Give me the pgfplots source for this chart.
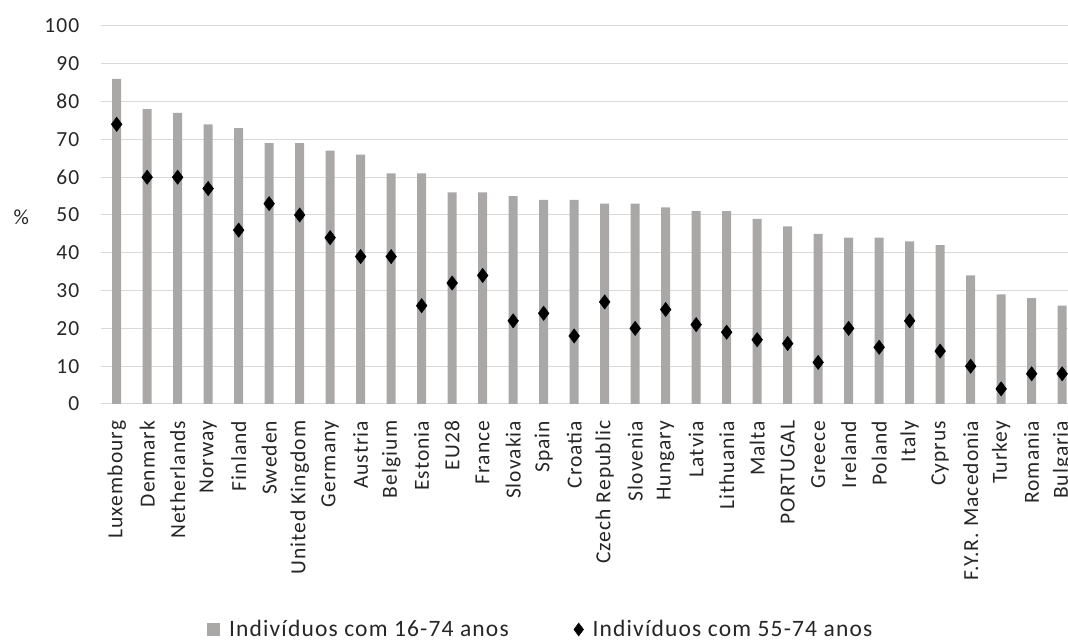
\documentclass[border=0pt]{standalone}
\usepackage{pgfplots}
\pgfplotsset{compat=1.18}
\usepackage{fontspec}
\setmainfont{Carlito}[LetterSpace=5]
\definecolor{bargray}{RGB}{170,167,167}
\definecolor{gridgray}{RGB}{217,217,217}
\begin{document}
\begin{tikzpicture}
\useasboundingbox (0pt,0pt) rectangle (1068pt,642pt);
\clip (0pt,0pt) rectangle (1068pt,642pt);
\begin{axis}[
  at={(101.4pt,238pt)}, anchor=south west,
  scale only axis, width=976pt, height=378pt,
  xmin=-0.5, xmax=31.5, ymin=0, ymax=100,
  axis x line*=bottom, axis y line*=left,
  x axis line style={draw=gridgray, line width=1pt},
  y axis line style={draw=none},
  major tick length=0pt,
  ytick={0,10,...,100},
  ymajorgrids, grid style={draw=gridgray, line width=1pt},
  xtick={0,...,31},
  xticklabels={Luxembourg,Denmark,Netherlands,Norway,Finland,Sweden,United Kingdom,Germany,Austria,Belgium,Estonia,EU28,France,Slovakia,Spain,Croatia,Czech Republic,Slovenia,Hungary,Latvia,Lithuania,Malta,PORTUGAL,Greece,Ireland,Poland,Italy,Cyprus,F.Y.R. Macedonia,Turkey,Romania,Bulgaria},
  xticklabel style={yshift=-16.5pt, rotate=90, anchor=east, inner sep=0pt, font=\fontsize{21.5}{24}\selectfont, text=black!85},
  yticklabel style={anchor=east, inner sep=0pt, xshift=-22pt, font=\fontsize{21.5}{24}\selectfont, text=black!85},
  /pgf/number format/assume math mode=true,
  ylabel={\%},
  ylabel style={rotate=-90, at={(axis description cs:-0.082,0.495)}, anchor=center, font=\fontsize{21.5}{24}\selectfont, text=black!85},
  legend columns=2,
  legend style={at={(axis description cs:0.1082,-0.5966)}, anchor=west, draw=none, fill=none,
    inner sep=0pt, outer sep=0pt, column sep=9pt,
    nodes={inner sep=0pt, text=black!85},
    font=\fontsize{23.5}{26}\selectfont,
    /tikz/every even column/.append style={column sep=65pt}},
]
\addplot[ybar, bar width=9pt, bar shift=0pt, fill=bargray, draw=none,
  legend image code/.code={\fill[bargray] (0pt,-6.5pt) rectangle (13pt,6.5pt);}]
  coordinates {
  (0,86) (1,78) (2,77) (3,74) (4,73) (5,69) (6,69) (7,67) (8,66) (9,61)
  (10,61) (11,56) (12,56) (13,55) (14,54) (15,54) (16,53) (17,53) (18,52) (19,51)
  (20,51) (21,49) (22,47) (23,45) (24,44) (25,44) (26,43) (27,42) (28,34) (29,29)
  (30,28) (31,26)};
\addlegendentry{Indivíduos com 16-74 anos}
\addplot[only marks, mark=diamond*, mark size=7.2pt, black,
  legend image code/.code={\fill[black, mark size=6.5pt] plot[mark=diamond*, only marks] coordinates {(5.5pt,0pt)};}]
  coordinates {
  (0,74) (1,60) (2,60) (3,57) (4,46) (5,53) (6,50) (7,44) (8,39) (9,39)
  (10,26) (11,32) (12,34) (13,22) (14,24) (15,18) (16,27) (17,20) (18,25) (19,21)
  (20,19) (21,17) (22,16) (23,11) (24,20) (25,15) (26,22) (27,14) (28,10) (29,4)
  (30,8) (31,8)};
\addlegendentry{Indivíduos com 55-74 anos}
\end{axis}
\end{tikzpicture}
\end{document}
